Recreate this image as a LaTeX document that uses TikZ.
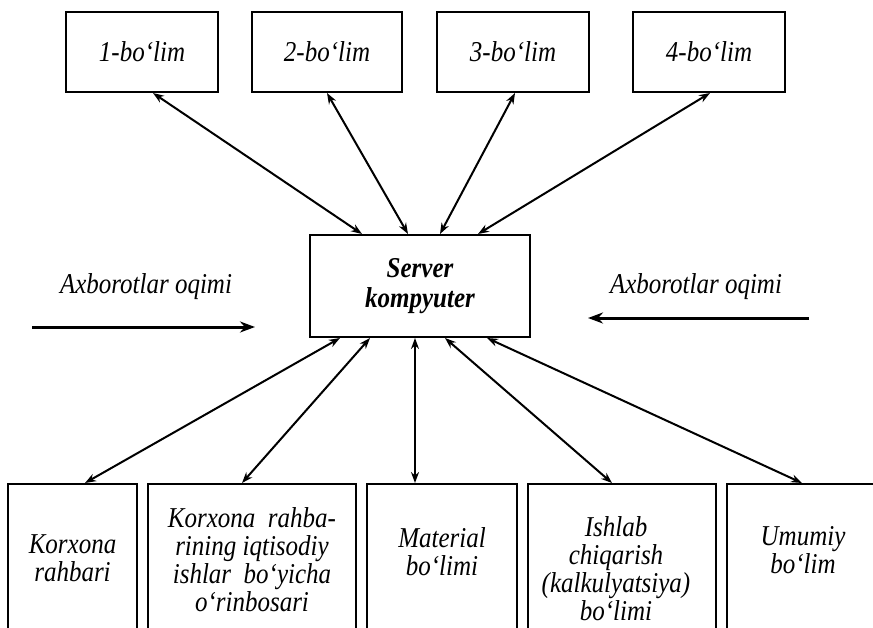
\documentclass[tikz,border=0pt]{standalone}
\usepackage{fontspec}
\setmainfont{Liberation Serif}[ItalicFont={Liberation Serif Italic},BoldItalicFont={Liberation Serif Bold Italic},BoldFont={Liberation Serif Bold}]
\usetikzlibrary{arrows.meta}
\newcommand{\talltext}[1]{\scalebox{1}[1.15]{#1}}
\begin{document}
\begin{tikzpicture}[x=1pt,y=-1pt,
  box/.style={draw, line width=2pt, inner sep=0pt},
  topbox/.style={box, minimum width=152pt, minimum height=80pt,
    font=\fontsize{25}{28}\selectfont\itshape},
  botbox/.style={box, minimum height=156pt},
  lbl/.style={font=\fontsize{25}{24.4}\selectfont\itshape, align=center, inner sep=0pt, yscale=1.15},
  link/.style={line width=2pt, {Stealth[length=11pt,width=8pt]}-{Stealth[length=11pt,width=8pt]}},
  flow/.style={line width=3pt, -{Stealth[length=15pt,width=11pt]}}
]
\useasboundingbox (0,0) rectangle (873,627);
\clip (0,0) rectangle (873,627);

% top boxes
\node[topbox] (b1) at (142,52) {\talltext{1-bo‘lim}};
\node[topbox, minimum width=150pt] (b2) at (327,52) {\talltext{2-bo‘lim}};
\node[topbox] (b3) at (513,52) {\talltext{3-bo‘lim}};
\node[topbox] (b4) at (709,52) {\talltext{4-bo‘lim}};

% server
\node[box, minimum width=220pt, minimum height=102pt, align=center,
  font=\fontsize{25}{30}\selectfont\bfseries\itshape] (srv) at (420,286) {\talltext{Server}\\\talltext{kompyuter}};

% flows
\node[lbl] (fl) at (146,287) {Axborotlar oqimi};
\coordinate (fl1) at (32,327);
\coordinate (fl2) at (255,327);
\draw[flow] (fl1) -- (fl2);
\node[lbl] (fr) at (696,287) {Axborotlar oqimi};
\coordinate (fr1) at (809,318);
\coordinate (fr2) at (588,318);
\draw[flow] (fr1) -- (fr2);

% bottom boxes
\node[botbox, minimum width=129pt] (bA) at (72.5,562) {};
\node[botbox, minimum width=208pt] (bB) at (252,562) {};
\node[botbox, minimum width=150pt] (bC) at (442,562) {};
\node[botbox, minimum width=188pt] (bD) at (622,562) {};
\node[botbox, minimum width=153pt] (bE) at (803.5,562) {};

\node[lbl] (tA) at (72.5,558) {Korxona\\rahbari};
\node[lbl] (tB) at (252,560) {Korxona\ \ rahba-\\rining iqtisodiy\\ishlar\ \ bo‘yicha\\o‘rinbosari};
\node[lbl] (tC) at (442,551.5) {Material\\bo‘limi};
\node[lbl] (tD) at (616,568.5) {Ishlab\\chiqarish\\(kalkulyatsiya)\\bo‘limi};
\node[lbl] (tE) at (803,550) {Umumiy\\bo‘lim};

% links top
\draw[link] ([xshift=11pt]b1.south) -- ([xshift=-58pt]srv.north);
\draw[link] ([xshift=0pt]b2.south) -- ([xshift=-12pt]srv.north);
\draw[link] ([xshift=2pt]b3.south) -- ([xshift=20pt]srv.north);
\draw[link] ([xshift=1pt]b4.south) -- ([xshift=58pt]srv.north);

% links bottom
\draw[link] ([xshift=-80pt]srv.south) -- ([xshift=12.5pt]bA.north);
\draw[link] ([xshift=-50pt]srv.south) -- ([xshift=-10pt]bB.north);
\draw[link] ([xshift=-5pt]srv.south) -- ([xshift=-27pt]bC.north);
\draw[link] ([xshift=25pt]srv.south) -- ([xshift=-10pt]bD.north);
\draw[link] ([xshift=67pt]srv.south) -- ([xshift=-1.5pt]bE.north);
\end{tikzpicture}
\end{document}
